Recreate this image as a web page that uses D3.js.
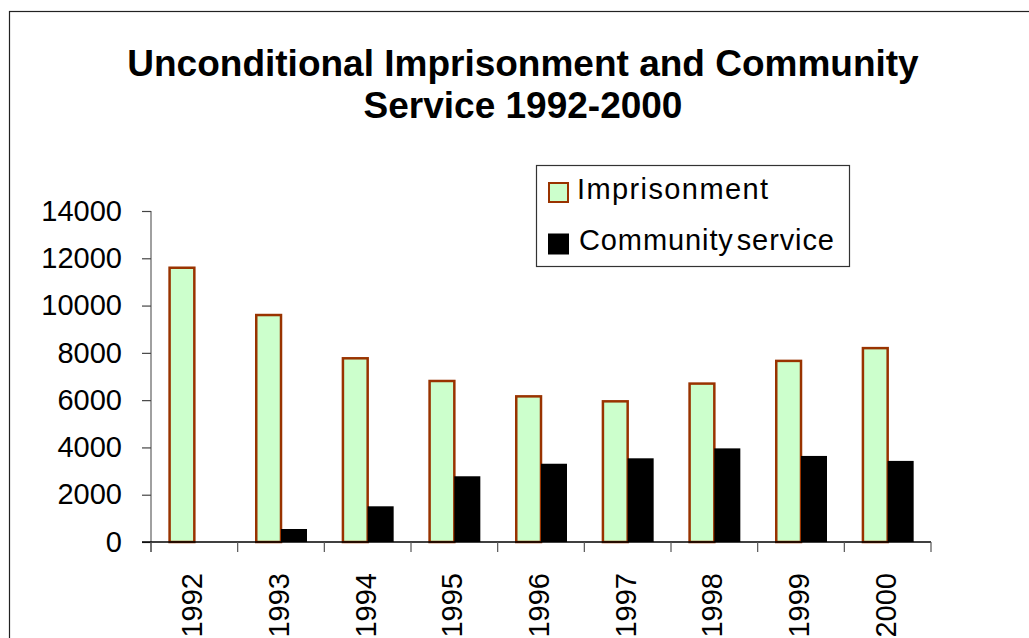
<!DOCTYPE html>
<html>
<head>
<meta charset="utf-8">
<script src="https://cdn.jsdelivr.net/npm/d3@7"></script>
<style>
  html, body { margin: 0; padding: 0; background: #fff; }
  svg { display: block; font-family: "Liberation Sans", Arial, sans-serif; }
</style>
</head>
<body>
<svg id="chart" width="1029" height="638"></svg>
<script>
const years = ["1992","1993","1994","1995","1996","1997","1998","1999","2000"];
const imprisonment = [11600, 9600, 7770, 6810, 6160, 5950, 6700, 7660, 8200];
const communityService = [0, 550, 1510, 2780, 3310, 3540, 3960, 3640, 3430];
const seriesNames = ["Imprisonment", "Community service"];
const yTicks = [0, 2000, 4000, 6000, 8000, 10000, 12000, 14000];
const titleLines = ["Unconditional Imprisonment and Community", "Service 1992-2000"];

const svg = d3.select("#chart");

// outer frame (extends past right/bottom edges)
svg.append("rect").attr("x", 9.5).attr("y", 11.5).attr("width", 1100).attr("height", 700)
  .attr("fill", "none").attr("stroke", "#222").attr("stroke-width", 1.2);

// title
const title = svg.append("text").attr("text-anchor", "middle")
  .attr("font-size", 37).attr("font-weight", "bold").attr("fill", "#000");
titleLines.forEach((t, i) => {
  title.append("tspan").attr("x", 523).attr("y", 76 + i * 41.5).text(t);
});

const plot = { left: 151, right: 931, top: 211, bottom: 542 };

const x = d3.scaleBand().domain(years).range([plot.left, plot.right]).padding(0);
const xi = d3.scaleBand().domain(seriesNames).range([0, x.bandwidth()])
  .paddingInner(0).paddingOuter(0.667);
const y = d3.scaleLinear().domain([0, 14000]).range([plot.bottom, plot.top]);

const rows = years.map((yr, i) => ({ year: yr, values: [
  { key: seriesNames[0], v: imprisonment[i] },
  { key: seriesNames[1], v: communityService[i] }
]}));

// bars
const g = svg.append("g");
const groups = g.selectAll("g.year").data(rows).join("g")
  .attr("transform", d => `translate(${x(d.year)},0)`);
groups.selectAll("rect").data(d => d.values.filter(v => v.v > 0)).join("rect")
  .attr("x", d => xi(d.key) + (d.key === seriesNames[0] ? 1.25 : 0))
  .attr("y", d => y(d.v))
  .attr("width", d => xi.bandwidth() - (d.key === seriesNames[0] ? 1.25 : 0))
  .attr("height", d => y(0) - y(d.v))
  .attr("fill", d => d.key === seriesNames[0] ? "#CCFFCC" : "#000")
  .attr("stroke", d => d.key === seriesNames[0] ? "#993300" : "none")
  .attr("stroke-width", 2.5);

// y axis
const yAxis = svg.append("g").attr("transform", `translate(${plot.left},0)`)
  .call(d3.axisLeft(y).tickValues(yTicks).tickFormat(d3.format("d")).tickSize(9).tickPadding(20));
yAxis.select(".domain").attr("stroke", "#808080").attr("stroke-width", 1.5)
  .attr("d", `M0,${plot.top}V${plot.bottom + 10}`);
yAxis.selectAll(".tick line").attr("stroke", "#444").attr("stroke-width", 1.2);
yAxis.selectAll(".tick text").attr("font-size", 29).attr("fill", "#000")
  .attr("font-family", "Liberation Sans, Arial, sans-serif");

// x axis
const xAxis = svg.append("g").attr("transform", `translate(0,${plot.bottom})`);
xAxis.append("line").attr("x1", plot.left - 9).attr("x2", plot.right)
  .attr("y1", 0).attr("y2", 0).attr("stroke", "#000").attr("stroke-width", 1.5);
const xTickPos = years.map(yr => x(yr)).concat([x(years[years.length - 1]) + x.bandwidth()]);
xAxis.selectAll("line.tk").data(xTickPos).join("line").attr("class", "tk")
  .attr("x1", d => d).attr("x2", d => d).attr("y1", 0).attr("y2", 10)
  .attr("stroke", "#555").attr("stroke-width", 1.2);
xAxis.selectAll("text").data(years).join("text")
  .attr("transform", d => `translate(${x(d) + x.bandwidth() / 2 - 2},31) rotate(-90)`)
  .attr("text-anchor", "end").attr("dominant-baseline", "central")
  .attr("font-size", 29).attr("fill", "#000").text(d => d);

// legend
const lg = svg.append("g");
lg.append("rect").attr("x", 536.5).attr("y", 165.5).attr("width", 313).attr("height", 101)
  .attr("fill", "#fff").attr("stroke", "#333").attr("stroke-width", 1.2);
const items = lg.selectAll("g.item").data(seriesNames).join("g")
  .attr("transform", (d, i) => `translate(0,${i * 51.5})`);
items.append("rect").attr("x", 549).attr("y", 183).attr("width", 19).attr("height", 19)
  .attr("fill", (d, i) => i === 0 ? "#CCFFCC" : "#000")
  .attr("stroke", (d, i) => i === 0 ? "#993300" : "#000").attr("stroke-width", 2);
items.append("text").attr("x", (d, i) => i === 0 ? 577 : 579).attr("y", 198.5)
  .attr("font-size", 29).attr("fill", "#000")
  .attr("letter-spacing", (d, i) => i === 0 ? 1.4 : 0.9)
  .attr("word-spacing", -6)
  .text(d => d);
</script>
</body>
</html>
